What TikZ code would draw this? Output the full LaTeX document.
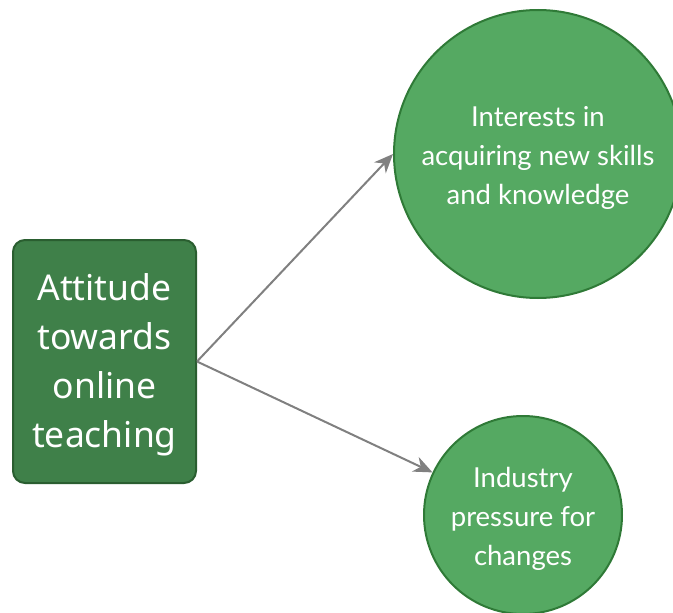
\documentclass[tikz,border=0pt]{standalone}
\usepackage{fontspec}
\setmainfont{Lato}
\newfontfamily\boxfont{Noto Sans}
\usepackage{tikz}
\usetikzlibrary{arrows.meta}
\usetikzlibrary{calc}
\definecolor{boxgreen}{HTML}{3F8049}
\definecolor{boxline}{HTML}{2A5E30}
\definecolor{circgreen}{HTML}{55A962}
\definecolor{circline}{HTML}{2F7A37}
\definecolor{arrowgrey}{HTML}{808080}
\newcommand{\lift}[1]{\rule{0pt}{#1}}
\tikzset{
	attbox/.style={draw=boxline,line width=2pt,fill=boxgreen,rounded corners=12pt,
		text=white,align=center,font=\boxfont\fontsize{35.5}{49}\selectfont,
		minimum width=183pt,minimum height=243pt,inner sep=0pt},
	factor/.style={circle,draw=circline,line width=2pt,fill=circgreen,text=white,
		align=center,font=\fontsize{27.5}{39}\selectfont,inner sep=0pt},
	link/.style={draw=arrowgrey,line width=2pt,-{Stealth[length=19pt,width=16pt,inset=6pt]}}
}
\begin{document}
\begin{tikzpicture}[x=1pt,y=-1pt]
				\useasboundingbox (0,0) rectangle (673,613);
				\def\ra{144};
				\def\rb{99};
				\node[attbox] (att) at (104.5,361.5) {\lift{34.5pt}Attitude\\towards\\online\\teaching};
				\node[factor,minimum size={2*\ra pt}] (int) at (538,154) {\lift{28pt}Interests in\\acquiring new skills\\and knowledge};
				\node[factor,minimum size={2*\rb pt}] (ind) at (523,515) {\lift{28.5pt}Industry\\pressure for\\changes};
				%\fill[red] (att.east) circle (2pt);
				\draw[link] (att.east) -- (int.west);
				\draw[link] (att.east) -- (ind);
			\end{tikzpicture}
\end{document}
